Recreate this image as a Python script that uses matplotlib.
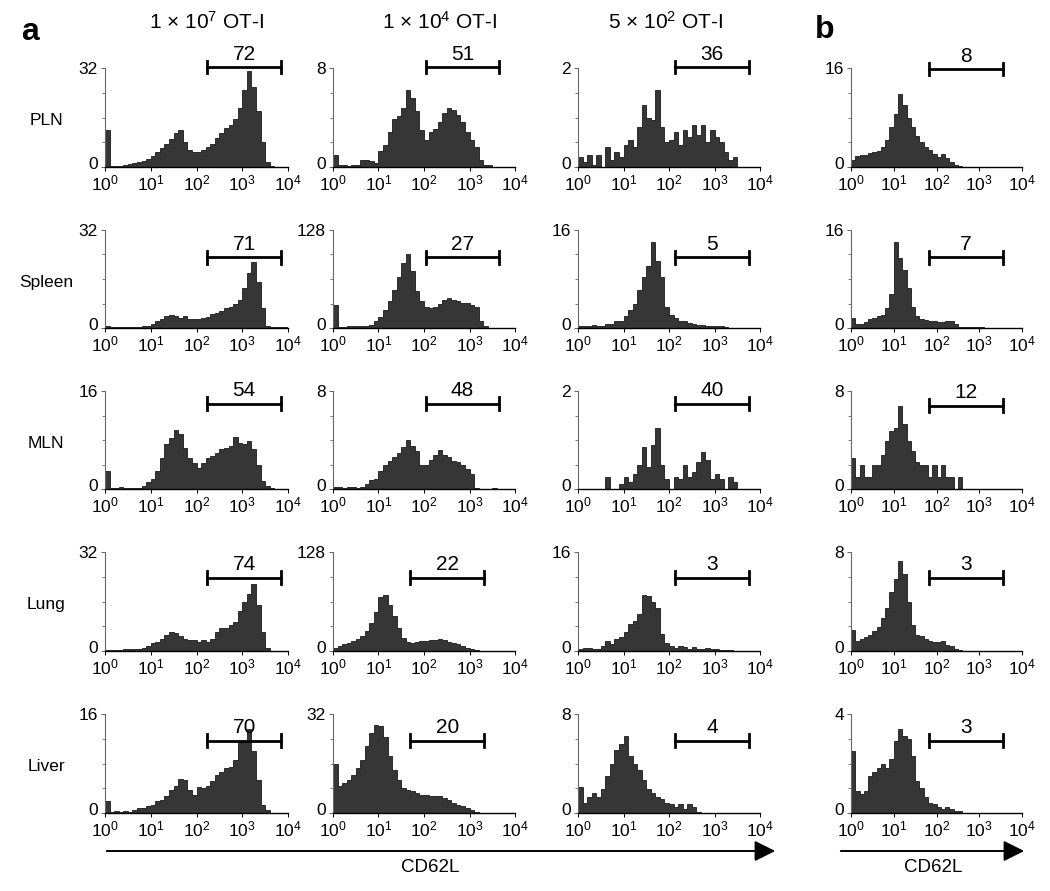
import numpy as np
import matplotlib
matplotlib.use("Agg")
import matplotlib.pyplot as plt
import matplotlib.transforms as mtransforms
from matplotlib.patches import FancyArrowPatch

plt.rcParams["font.family"] = ["Liberation Sans", "DejaVu Sans"]
plt.rcParams["mathtext.default"] = "regular"

# CD62L histograms, 10 bins per decade from 10^0 to 10^4 (counts per bin)
log_edges = np.linspace(0, 4, 41)

organs = ["PLN", "Spleen", "MLN", "Lung", "Liver"]
col_titles = [r"1 $\times$ 10$^7$ OT-I", r"1 $\times$ 10$^4$ OT-I", r"5 $\times$ 10$^2$ OT-I"]

# column 1: 1e7 OT-I
pln_1e7 = [12, 0.3, 0.2, 0.3, 0.6, 1, 1.2, 1.5, 2, 2.5, 3.5, 5, 6, 7.5, 9, 11, 12, 8, 5.5, 5,
           5, 5.5, 6.5, 7.5, 9.5, 11, 12.5, 13.5, 15.5, 19, 25, 31, 26, 18, 8, 1.5, 0.3, 0, 0, 0]
spleen_1e7 = [0.5, 0.2, 0.2, 0.3, 0.2, 0.3, 0.3, 0.4, 0.6, 0.8, 1.3, 2.3, 3, 3.9, 4.4, 3.9, 3.4, 3.9, 3, 2.9,
              2.9, 3.4, 3.5, 4.5, 5, 5.5, 6.5, 6.8, 7.8, 9.3, 13, 18, 21.5, 15, 6.6, 0.8, 0.2, 0.2, 0.2, 0.2]
mln_1e7 = [3, 0.15, 0.2, 0.3, 0.15, 0.2, 0.1, 0.2, 0.5, 1.1, 1.6, 3, 5.1, 7.3, 8.3, 9.6, 9, 6.7, 5.1, 4.3,
           3.5, 4.3, 5.1, 5.4, 5.9, 6.5, 6.7, 7, 8.5, 7.5, 7.3, 7.8, 6.5, 4, 1.3, 0.5, 0.1, 0, 0, 0]
lung_1e7 = [0.2, 0.2, 0.2, 0.2, 0.5, 0.5, 0.6, 0.6, 1, 1.5, 2.5, 3, 4, 5.2, 6, 5.7, 4.7, 4, 3.6, 3.6,
            3, 3.6, 3, 4, 6, 7.3, 7.3, 8.4, 9.5, 12.9, 16, 18.5, 21.5, 15, 6.2, 1, 0.1, 0.1, 0.1, 0.1]
liver_1e7 = [1.9, 0.2, 0.3, 0.2, 0.3, 0.2, 0.5, 0.8, 0.8, 1.1, 1.3, 1.9, 2.1, 2.7, 3.7, 4.3, 5.5, 5.3, 3.7, 2.9,
             4.2, 4, 4.3, 5.1, 6.1, 6.7, 7.2, 7.5, 8.5, 11.5, 11.7, 13.5, 10.1, 5.3, 1.3, 0.5, 0, 0, 0, 0]

# column 2: 1e4 OT-I
pln_1e4 = [1, 0.15, 0.15, 0.1, 0.15, 0.2, 0.6, 0.6, 0.5, 0.35, 1.3, 1.8, 2.8, 3.9, 4.1, 4.8, 6.2, 5.6, 4.5, 3,
           2.2, 2.8, 3.1, 3.6, 4.4, 4.8, 4.6, 4.2, 3.6, 2.8, 2.2, 1.6, 0.6, 0.15, 0.2, 0, 0, 0, 0, 0]
spleen_1e4 = [30, 1, 1, 2, 2, 2, 3, 3, 4, 9, 15, 24, 35, 50, 67, 85, 97, 74, 48, 35,
              27, 26, 28, 31, 37, 39, 37, 35, 33, 33, 30, 28, 9, 2, 0.5, 0.3, 0.3, 0.3, 0.3, 0.3]
mln_1e4 = [0.15, 0.15, 0.1, 0.15, 0.15, 0.1, 0.15, 0.4, 0.7, 0.8, 1.5, 2, 2.3, 2.6, 2.9, 3.4, 4, 3.5, 3.1, 2,
           2, 2.4, 2.8, 3.2, 2.8, 2.6, 2.3, 2.2, 2, 1.6, 1.2, 0.1, 0, 0, 0, 0.1, 0, 0, 0, 0]
lung_1e4 = [4, 6, 8.6, 10.7, 13, 15, 19, 26, 36, 51, 70, 73, 60, 45, 30, 17, 12, 10.7, 12, 13,
            13, 14, 14, 15, 14, 12, 10.7, 8.6, 6.4, 4.3, 2, 0.9, 0.3, 0.3, 0.3, 0.3, 0.3, 0.3, 0.3, 0.3]
liver_1e4 = [16, 8.6, 9.7, 10.8, 12.4, 14.5, 17.2, 21.5, 25.8, 28.5, 28, 24.7, 18.3, 14, 10.8, 8.1, 7.5, 7, 6.5, 5.9,
             5.9, 5.4, 5.4, 5.6, 4.8, 4.3, 3.2, 2.7, 2.2, 1.6, 0.9, 0.2, 0, 0, 0, 0, 0, 0, 0, 0]

# column 3: 5e2 OT-I
pln_5e2 = [0.2, 0.1, 0.25, 0.05, 0.25, 0, 0.4, 0.15, 0.3, 0.2, 0.45, 0.55, 0.4, 0.8, 1.25, 1.0, 0.95, 1.55, 0.8, 0.5,
           0.55, 0.7, 0.45, 0.75, 0.6, 0.85, 0.65, 0.85, 0.5, 0.75, 0.6, 0.5, 0.3, 0.15, 0.2, 0, 0, 0, 0, 0]
spleen_5e2 = [0.3, 0.3, 0.4, 0.5, 0.3, 0.4, 0.7, 0.6, 1.1, 1.2, 1.9, 3, 4, 6.2, 8.3, 10.2, 14, 11, 8.3, 3.5,
              2.2, 1.6, 1.2, 1.1, 0.8, 0.7, 0.5, 0.5, 0.4, 0.4, 0.3, 0.3, 0.2, 0.05, 0.05, 0.05, 0.05, 0.05, 0, 0]
mln_5e2 = [0, 0, 0, 0, 0, 0, 0.25, 0, 0, 0.1, 0.25, 0.15, 0.3, 0.5, 0.85, 0.45, 0.9, 1.25, 0.5, 0.2,
           0, 0.25, 0.2, 0.5, 0.25, 0.35, 0.55, 0.75, 0.6, 0.2, 0.3, 0.2, 0, 0.25, 0.15, 0, 0, 0, 0, 0]
lung_5e2 = [0.3, 0.5, 0.5, 0.4, 0.4, 0.8, 1.6, 1.1, 1.9, 2.2, 3, 4.3, 4.8, 5.9, 9, 8.9, 8, 7, 2.7, 1.3,
            0.8, 0.5, 0.8, 0.6, 0.4, 0.6, 0.4, 0.3, 0.5, 0.3, 0.3, 0.1, 0.1, 0.1, 0, 0, 0, 0, 0, 0]
liver_5e2 = [2.1, 0.8, 1.3, 1.6, 1.3, 1.9, 3, 4, 5.1, 5.6, 6.2, 4.6, 4, 3.5, 2.7, 1.9, 1.6, 1.3, 1.1, 0.8,
             0.7, 0.5, 0.7, 0.3, 0.7, 0.5, 0.05, 0, 0, 0, 0, 0, 0, 0, 0, 0, 0, 0, 0, 0]

# column 4: panel b
pln_b = [1.2, 1.8, 2, 1.9, 2.3, 2.5, 2.6, 3.3, 4.4, 6.5, 8.5, 11.8, 10, 8, 6.5, 5, 4, 3.2, 2.7, 2.1,
         1.6, 2.1, 1.5, 0.8, 0.3, 0.15, 0.05, 0.05, 0.05, 0.05, 0.05, 0.05, 0, 0, 0, 0, 0, 0, 0, 0]
spleen_b = [1.7, 0.6, 0.7, 0.9, 1.4, 1.7, 2, 2.2, 3.3, 5.5, 14, 11.5, 9.5, 6.5, 3.5, 1.9, 1.5, 1.3, 1.2, 1.2,
            0.9, 0.9, 1.2, 1.1, 0.6, 0.2, 0.1, 0.1, 0.1, 0.1, 0.1, 0.05, 0, 0, 0, 0, 0, 0, 0, 0]
mln_b = [2.5, 1, 2, 1, 1, 2, 2, 2.8, 3.9, 4.7, 5, 6.8, 5.3, 3.9, 3.1, 2.2, 2, 2, 1, 2,
         1, 2, 1, 1, 0, 1, 0, 0, 0, 0, 0, 0, 0, 0, 0, 0, 0, 0, 0, 0]
lung_b = [1.7, 0.8, 1, 1.1, 1.3, 1.6, 1.9, 2.7, 3.5, 4.8, 5.8, 7.3, 6.2, 4, 2.1, 1.3, 1.2, 0.95, 0.8, 0.7,
          0.7, 0.8, 0.5, 0.4, 0.15, 0.05, 0.03, 0.03, 0.03, 0.03, 0.03, 0.03, 0, 0, 0, 0, 0, 0, 0, 0]
liver_b = [2.5, 0.9, 0.75, 0.9, 1.5, 1.65, 1.8, 2, 1.8, 2.2, 2.9, 3.4, 3.1, 3, 2.3, 1.3, 1, 0.65, 0.4, 0.35,
           0.25, 0.15, 0.25, 0.15, 0.1, 0.08, 0, 0, 0, 0, 0, 0, 0, 0, 0, 0, 0, 0, 0, 0]

hists = [
    [pln_1e7, pln_1e4, pln_5e2, pln_b],
    [spleen_1e7, spleen_1e4, spleen_5e2, spleen_b],
    [mln_1e7, mln_1e4, mln_5e2, mln_b],
    [lung_1e7, lung_1e4, lung_5e2, lung_b],
    [liver_1e7, liver_1e4, liver_5e2, liver_b],
]

y_max = [
    [32, 8, 2, 16],
    [32, 128, 16, 16],
    [16, 8, 2, 8],
    [32, 128, 16, 8],
    [16, 32, 8, 4],
]

# % CD62L-high inside the marker
gate_pct = [
    [72, 51, 36, 8],
    [71, 27, 5, 7],
    [54, 48, 40, 12],
    [74, 22, 3, 3],
    [70, 20, 4, 3],
]
# marker limits (log10 CD62L)
gate_lo = [
    [2.23, 2.04, 2.13, 1.82],
    [2.23, 2.04, 2.13, 1.82],
    [2.23, 2.04, 2.13, 1.82],
    [2.23, 1.70, 2.13, 1.82],
    [2.23, 1.70, 2.13, 1.82],
]
gate_hi = [
    [3.85, 3.65, 3.76, 3.55],
    [3.85, 3.65, 3.76, 3.55],
    [3.85, 3.65, 3.76, 3.55],
    [3.85, 3.32, 3.76, 3.55],
    [3.85, 3.32, 3.76, 3.55],
]
gate_y = [1.01, 0.72, 0.87, 0.74, 0.73]   # axes fraction per row
gate_y_b = [0.99, 0.72, 0.85, 0.74, 0.73]

FILL = "#363636"
W, H = 1050, 891
col_left = [105, 333, 578, 851]
col_width = [183, 182, 182, 171]
row_top = [68, 230, 391, 552, 714]
row_bottom = [167, 328, 489, 651, 813]

fig = plt.figure(figsize=(W / 100, H / 100), dpi=100)
zero_shift = mtransforms.ScaledTranslation(0, 4 / 100, fig.dpi_scale_trans)

for r in range(5):
    for c in range(4):
        ax = fig.add_axes([col_left[c] / W, 1 - row_bottom[r] / H,
                           col_width[c] / W, (row_bottom[r] - row_top[r]) / H])
        ym = y_max[r][c]
        ax.stairs(hists[r][c], 10 ** log_edges, fill=True, facecolor=FILL,
                  edgecolor="black", linewidth=0.5)
        ax.set_xscale("log")
        ax.set_xlim(1, 1e4)
        ax.set_ylim(0, ym)
        ax.set_yticks([0, ym])
        ax.set_yticks([ym * 0.25, ym * 0.5, ym * 0.75], minor=True)
        ax.set_yticklabels(["0", str(ym)])
        ax.set_xticks([1, 10, 100, 1000, 10000])
        ax.spines["top"].set_visible(False)
        ax.spines["right"].set_visible(False)
        ax.spines["left"].set_color("#666666")
        ax.spines["left"].set_linewidth(0.8)
        ax.spines["bottom"].set_linewidth(1.0)
        ax.tick_params(axis="y", which="major", length=3, width=0.7, pad=2,
                       labelsize=12.5, color="#666666")
        ax.tick_params(axis="y", which="minor", length=2, width=0.6, color="#666666")
        ax.tick_params(axis="x", which="major", length=3, width=0.7, pad=2, labelsize=12.5)
        ax.tick_params(axis="x", which="minor", length=1.5, width=0.5, labelbottom=False)
        # lift the "0" a little so it clears the 10^0 label
        zlab = ax.get_yticklabels()[0]
        zlab.set_transform(zlab.get_transform() + zero_shift)

        # marker bar
        trans = mtransforms.blended_transform_factory(ax.transData, ax.transAxes)
        gy = gate_y_b[r] if c == 3 else gate_y[r]
        lo, hi = 10 ** gate_lo[r][c], 10 ** gate_hi[r][c]
        ax.plot([lo, hi], [gy, gy], color="black", lw=2, transform=trans, clip_on=False)
        for xe in (lo, hi):
            ax.plot([xe, xe], [gy - 0.065, gy + 0.065], color="black", lw=2,
                    transform=trans, clip_on=False)
        ax.annotate(str(gate_pct[r][c]), xy=(np.sqrt(lo * hi), gy), xycoords=trans,
                    xytext=(0, 2.5), textcoords="offset points", ha="center", va="bottom",
                    fontsize=15)

    row_mid = (row_top[r] + row_bottom[r]) / 2
    fig.text(46 / W, 1 - (row_mid + 3) / H, organs[r], ha="center", va="center", fontsize=12.5)

title_x = [207, 440, 666]
for t, tx in zip(col_titles, title_x):
    fig.text(tx / W, 1 - 22 / H, t, ha="center", va="center", fontsize=15)

fig.text(21 / W, 1 - 32 / H, "a", ha="left", va="center", fontsize=23, fontweight="bold")
fig.text(815 / W, 1 - 30 / H, "b", ha="left", va="center", fontsize=23, fontweight="bold")

# CD62L axis arrows
arrow_y = 1 - 851 / H
for x0, x1, xt in [(104, 778, 430), (838, 1027, 933)]:
    fig.add_artist(FancyArrowPatch((x0 / W, arrow_y), (x1 / W, arrow_y),
                                   transform=fig.transFigure,
                                   arrowstyle="-|>,head_length=0.9,head_width=0.45",
                                   mutation_scale=14, color="black", lw=1.4))
    fig.text(xt / W, 1 - 868 / H, "CD62L", ha="center", va="center", fontsize=13.5)

fig.savefig("out.png", dpi=100)
